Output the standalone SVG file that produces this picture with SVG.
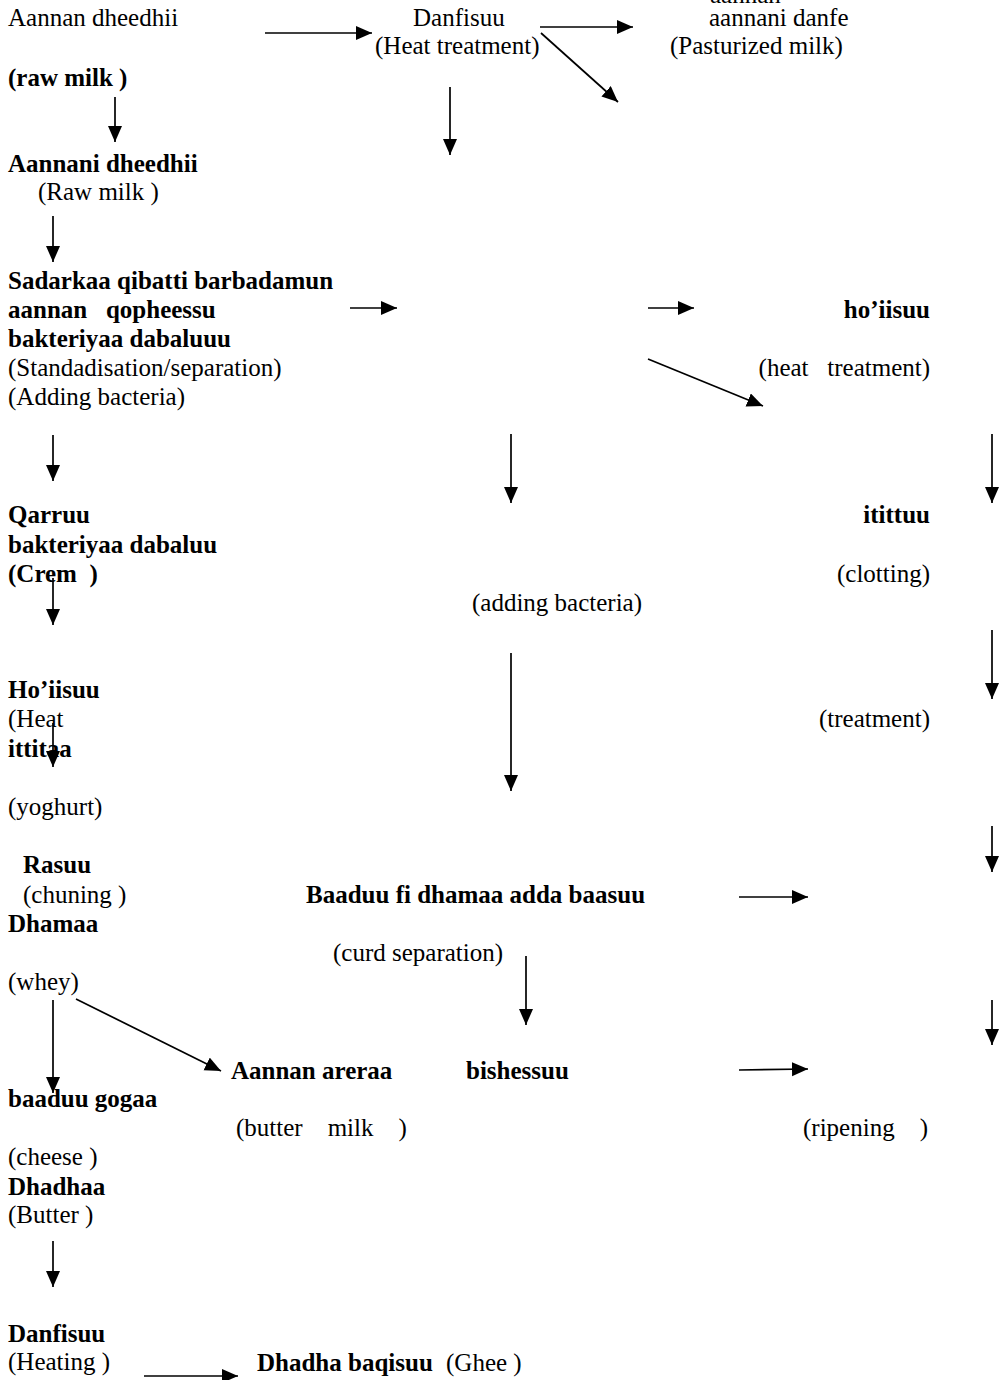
<svg xmlns="http://www.w3.org/2000/svg" width="1006" height="1380" viewBox="0 0 1006 1380">
<style>
text{font-family:"Liberation Serif","Times New Roman",serif;font-size:25px;fill:#000;}
.b{font-weight:bold;}
.e{text-anchor:end;}
.c line{stroke:#000;stroke-width:1.7;marker-end:url(#ah);}
</style>
<defs>
<marker id="ah" markerUnits="userSpaceOnUse" markerWidth="18" markerHeight="16" refX="16" refY="7" orient="auto">
<path d="M0,0 L16,7 L0,14 Z" fill="#000"/>
</marker>
</defs>
<rect width="1006" height="1380" fill="#fff"/>

<g id="cut-top"><text x="710" y="3">aannan</text></g>
<g id="n-raw"><text x="8" y="26">Aannan dheedhii</text><text class="b" x="8" y="86">(raw milk )</text></g>
<g id="n-danfisuu"><text x="413" y="26">Danfisuu</text><text x="375" y="54">(Heat treatment)</text></g>
<g id="n-pasturized"><text x="709" y="26">aannani danfe</text><text x="670" y="54">(Pasturized milk)</text></g>
<g id="n-raw2"><text class="b" x="8" y="172">Aannani dheedhii</text><text x="38" y="200">(Raw milk )</text></g>
<g id="n-sadarkaa">
<text class="b" x="8" y="289">Sadarkaa qibatti barbadamun</text>
<text class="b" x="8" y="318" xml:space="preserve">aannan   qopheessu</text>
<text class="b" x="8" y="347">bakteriyaa dabaluuu</text>
<text x="8" y="376">(Standadisation/separation)</text>
<text x="8" y="405">(Adding bacteria)</text>
</g>
<g id="n-hoiisuu"><text class="b e" x="930" y="318">ho’iisuu</text><text class="e" x="930" y="376" xml:space="preserve">(heat   treatment)</text></g>
<g id="n-qarruu">
<text class="b" x="8" y="523">Qarruu</text>
<text class="b" x="8" y="553">bakteriyaa dabaluu</text>
<text class="b" x="8" y="582" xml:space="preserve">(Crem  )</text>
</g>
<g id="n-itittuu"><text class="b e" x="930" y="523">itittuu</text><text class="e" x="930" y="582">(clotting)</text></g>
<g id="n-adding"><text x="472" y="611">(adding bacteria)</text></g>
<g id="n-hoiisuu2"><text class="b" x="8" y="698">Ho’iisuu</text><text x="8" y="727">(Heat</text></g>
<g id="n-treatment"><text class="e" x="930" y="727">(treatment)</text></g>
<g id="n-ittitaa"><text class="b" x="8" y="757">ittitaa</text><text x="8" y="815">(yoghurt)</text></g>
<g id="n-rasuu"><text class="b" x="23" y="873">Rasuu</text><text x="23" y="903">(chuning )</text></g>
<g id="n-baaduu"><text class="b" x="306" y="903">Baaduu fi dhamaa adda baasuu</text><text x="333" y="961">(curd separation)</text></g>
<g id="n-dhamaa"><text class="b" x="8" y="932">Dhamaa</text><text x="8" y="990">(whey)</text></g>
<g id="n-areraa"><text class="b" x="231" y="1079">Aannan areraa</text><text x="236" y="1136" xml:space="preserve">(butter    milk    )</text></g>
<g id="n-bishessuu"><text class="b" x="466" y="1079">bishessuu</text></g>
<g id="n-ripening"><text x="803" y="1136" xml:space="preserve">(ripening    )</text></g>
<g id="n-gogaa"><text class="b" x="8" y="1107">baaduu gogaa</text><text x="8" y="1165">(cheese )</text></g>
<g id="n-dhadhaa"><text class="b" x="8" y="1195">Dhadhaa</text><text x="8" y="1223">(Butter )</text></g>
<g id="n-danfisuu2"><text class="b" x="8" y="1342">Danfisuu</text><text x="8" y="1370">(Heating )</text></g>
<g id="n-ghee"><text class="b" x="257" y="1371">Dhadha baqisuu</text><text x="446" y="1371">(Ghee )</text></g>

<g id="connectors" class="c">
<line x1="265" y1="33" x2="372" y2="33"/>
<line x1="540" y1="27" x2="633" y2="27"/>
<line x1="541" y1="33" x2="618" y2="102"/>
<line x1="115" y1="97" x2="115" y2="142"/>
<line x1="450" y1="87" x2="450" y2="155"/>
<line x1="53" y1="216" x2="53" y2="262"/>
<line x1="350" y1="308" x2="397" y2="308"/>
<line x1="648" y1="308" x2="694" y2="308"/>
<line x1="648" y1="359" x2="763" y2="406"/>
<line x1="53" y1="435" x2="53" y2="481"/>
<line x1="511" y1="434" x2="511" y2="503"/>
<line x1="992" y1="434" x2="992" y2="503"/>
<line x1="53" y1="578" x2="53" y2="625"/>
<line x1="511" y1="653" x2="511" y2="791"/>
<line x1="992" y1="630" x2="992" y2="699"/>
<line x1="53" y1="723" x2="53" y2="767"/>
<line x1="992" y1="826" x2="992" y2="872"/>
<line x1="739" y1="897" x2="808" y2="897"/>
<line x1="526" y1="956" x2="526" y2="1025"/>
<line x1="992" y1="1000" x2="992" y2="1045"/>
<line x1="53" y1="1000" x2="53" y2="1093"/>
<line x1="76" y1="999" x2="221" y2="1071"/>
<line x1="739" y1="1070" x2="808" y2="1069"/>
<line x1="53" y1="1241" x2="53" y2="1287"/>
<line x1="144" y1="1376" x2="238" y2="1376"/>
</g>
</svg>
